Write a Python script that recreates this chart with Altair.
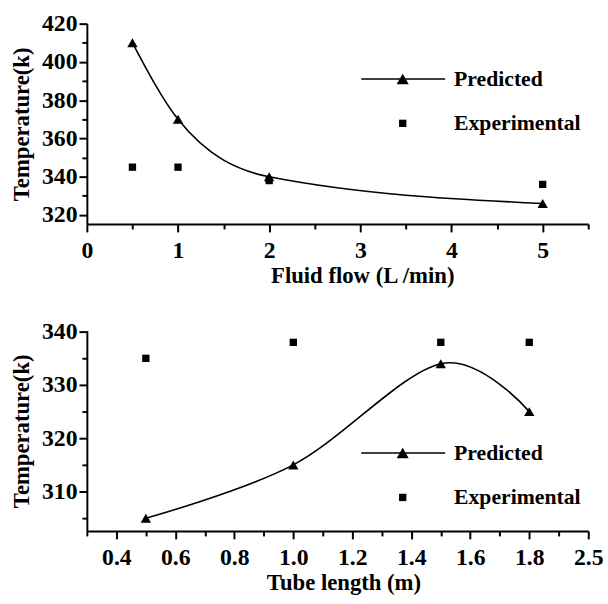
import altair as alt
import pandas as pd

# ---- data ----
flow = [0.5, 1, 2, 5]
flow_pred = [410, 370, 340, 326]
flow_exp = [345, 345, 338, 336]

length = [0.5, 1.0, 1.5, 1.8]
len_pred = [305, 315, 334, 325]
len_exp = [335, 338, 338, 338]

flow_ticks = [0, 1, 2, 3, 4, 5]
flow_minor = [0.5, 1.5, 2.5, 3.5, 4.5, 5.5]
temp1_ticks = [320, 340, 360, 380, 400, 420]
temp1_minor = [330, 350, 370, 390, 410]
len_ticks = [0.4, 0.6, 0.8, 1.0, 1.2, 1.4, 1.6, 1.8, 2.0]
len_minor = [0.3, 0.5, 0.7, 0.9, 1.1, 1.3, 1.5, 1.7, 1.9]
temp2_ticks = [310, 320, 330, 340]
temp2_minor = [305, 315, 325, 335]

legend_labels = ["Predicted", "Experimental"]

FONT = "Liberation Serif"
W = 508
H = 203

df1 = pd.DataFrame({"x": flow, "pred": flow_pred, "exp": flow_exp})
df2 = pd.DataFrame({"x": length, "pred": len_pred, "exp": len_exp})
one = pd.DataFrame({"a": [0]})


def axis(major, minor, title, orient, label_fmt, title_x=None):
    step = round(major[1] - major[0], 6)
    test = f"abs(datum.value / {step} - round(datum.value / {step})) < 0.001"
    kw = dict(
        values=sorted(major + minor),
        tickCount=100,
        title=title,
        orient=orient,
        tickSize={"condition": {"test": test, "value": 8}, "value": 5},
        labelExpr=f"({test}) ? {label_fmt} : ''",
        labelPadding=7 if orient == "bottom" else 2,
        titlePadding=2 if orient == "bottom" else 8,
        labelFlush=False,
        labelOverlap=False,
    )
    if title_x is not None:
        kw["titleX"] = title_x
        kw["titleAnchor"] = "middle"
    return alt.Axis(**kw)


def panel(df, xdom, ydom, xt, xm, yt, ym, xtitle, interp, leg_y, xfmt, title_x):
    xs = alt.Scale(domain=xdom, nice=False, zero=False)
    ys = alt.Scale(domain=ydom, nice=False, zero=False)
    base = alt.Chart(df)
    line = base.mark_line(interpolate=interp, color="black", strokeWidth=1.6).encode(
        x=alt.X("x:Q", scale=xs, axis=axis(xt, xm, xtitle, "bottom", xfmt, title_x)),
        y=alt.Y("pred:Q", scale=ys,
                axis=axis(yt, ym, "Temperature(k)", "left", "format(datum.value, 'd')")),
    )
    tri = base.mark_point(shape="triangle-up", filled=True, color="black", size=110, opacity=1).encode(
        x="x:Q", y="pred:Q")
    sq = base.mark_square(color="black", size=55, opacity=1).encode(x="x:Q", y="exp:Q")

    lg_line = alt.Chart(one).mark_rule(color="black", strokeWidth=1.5).encode(
        x=alt.value(278), x2=alt.value(363), y=alt.value(leg_y))
    lg_tri = alt.Chart(one).mark_point(shape="triangle-up", filled=True, color="black",
                                       size=150, opacity=1).encode(
        x=alt.value(320), y=alt.value(leg_y))
    lg_sq = alt.Chart(one).mark_square(color="black", size=55, opacity=1).encode(
        x=alt.value(320), y=alt.value(leg_y + 45))
    lg_t1 = alt.Chart(one).mark_text(text=legend_labels[0], font=FONT, fontWeight="bold",
                                     fontSize=22, align="left", baseline="middle",
                                     color="black").encode(
        x=alt.value(372), y=alt.value(leg_y))
    lg_t2 = alt.Chart(one).mark_text(text=legend_labels[1], font=FONT, fontWeight="bold",
                                     fontSize=22, align="left", baseline="middle",
                                     color="black").encode(
        x=alt.value(372), y=alt.value(leg_y + 45))

    return alt.layer(line, tri, sq, lg_line, lg_tri, lg_sq, lg_t1, lg_t2).properties(
        width=W, height=H)


top = panel(df1, [0, 5.5], [315.3, 420], flow_ticks, flow_minor, temp1_ticks, temp1_minor,
            "Fluid flow (L /min)", "monotone", 56, "format(datum.value, 'd')", 279)
bottom = panel(df2, [0.3, 2.0], [302.6, 340.2], len_ticks, len_minor, temp2_ticks, temp2_minor,
               "Tube length (m)", "cardinal", 124,
               "(abs(datum.value - 2) < 0.001 ? '2.5' : format(datum.value, '.1f'))", 260)

chart = alt.vconcat(top, bottom, spacing=33).properties(
    padding={"left": 11, "top": 8, "right": 5, "bottom": 5}
).configure_view(stroke=None).configure_axis(
    grid=False,
    domainColor="black", domainWidth=2,
    tickColor="black", tickWidth=2,
    labelFont=FONT, labelFontWeight="bold", labelFontSize=24, labelColor="black",
    titleFont=FONT, titleFontWeight="bold", titleFontSize=23, titleColor="black",
).configure_concat(spacing=33)

chart.save("out.html", embed_options={"renderer": "svg", "actions": False})
